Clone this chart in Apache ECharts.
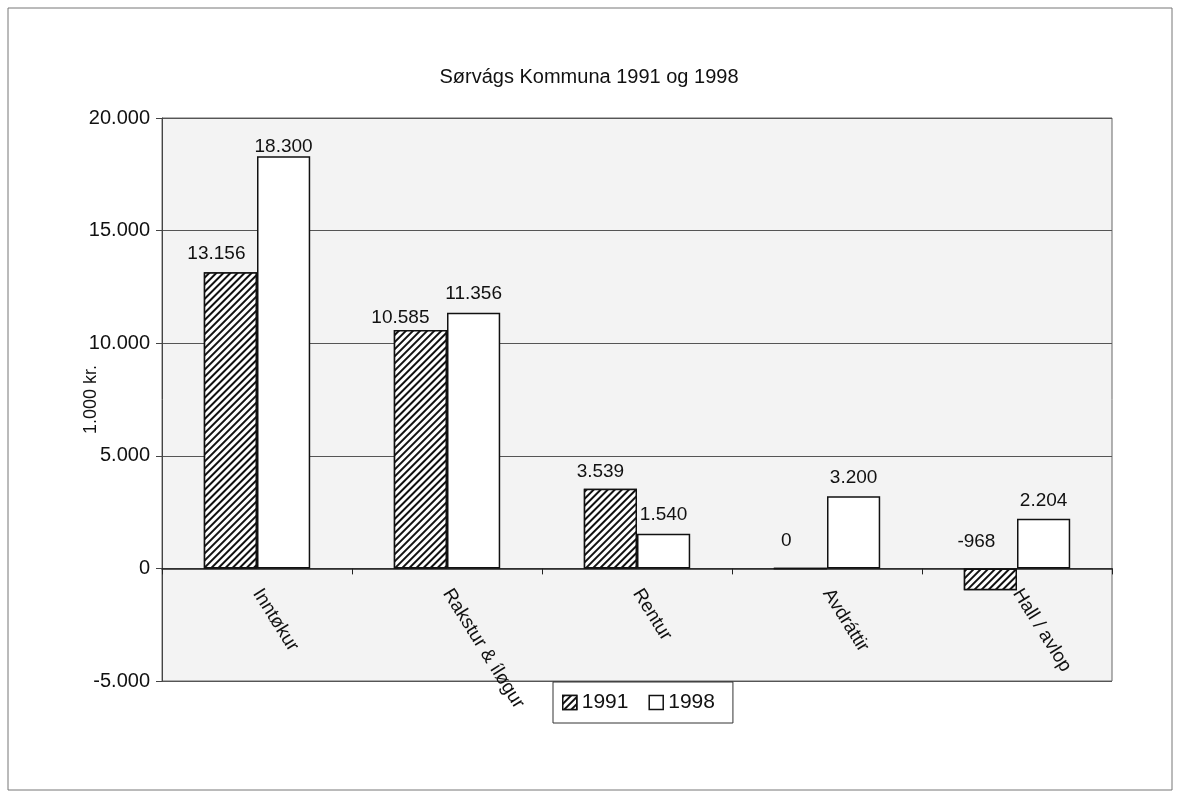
<!DOCTYPE html>
<html>
<head>
<meta charset="utf-8">
<script src="https://cdn.jsdelivr.net/npm/echarts@6/dist/echarts.min.js"></script>
<style>
html, body { margin: 0; padding: 0; background: #fff; }
#box { width: 1178px; height: 793px; }
</style>
</head>
<body>
<div id="box"></div>
<script>
var categories = ['Inntøkur', 'Rakstur & íløgur', 'Rentur', 'Avdráttir', 'Hall / avlop']
var values1991 = [13156, 10585, 3539, 0, -968]
var values1998 = [18300, 11356, 1540, 3200, 2204]
var yTicks = [-5000, 0, 5000, 10000, 15000, 20000]

// small nudges so the value labels sit where the original put them
var nudge1991 = [[-14, -4], [-20, 2], [-10, -2], [-14, -12], [-14, -12]]
var nudge1998 = [[0, 3], [0, -6], [0, -6], [0, -6], [0, -6]]

function fmt(v) {
    var s = String(Math.abs(v)).replace(/\B(?=(\d{3})+(?!\d))/g, '.')
    return (v < 0 ? '-' : '') + s
}

var font = 'Liberation Sans, Arial, sans-serif'
var hatch = {
    symbol: 'rect',
    color: '#111',
    backgroundColor: '#fff',
    dashArrayX: [1, 0],
    dashArrayY: [2, 3],
    rotation: -Math.PI / 4
}

// plot area in px, the x axis sits on the zero line
var gridTop = 118, gridBottom = 112, chartH = 793
var plotH = chartH - gridTop - gridBottom
var zeroShift = plotH * (0 - yTicks[0]) / (yTicks[yTicks.length - 1] - yTicks[0])

var data1991 = values1991.map(function (v, i) {
    return { value: v, label: { offset: nudge1991[i] } }
})
var data1998 = values1998.map(function (v, i) {
    return { value: v, label: { offset: nudge1998[i] } }
})

var chart = echarts.init(document.getElementById('box'))

chart.setOption({
    animation: false,
    backgroundColor: '#fff',
    textStyle: { fontFamily: font, color: '#111' },
    graphic: [{
        type: 'rect',
        shape: { x: 8, y: 8, width: 1164, height: 782 },
        style: { fill: 'none', stroke: '#777', lineWidth: 1 },
        silent: true,
        z: -10
    }],
    title: {
        text: 'Sørvágs Kommuna 1991 og 1998',
        left: 'center',
        top: 62,
        textStyle: { fontSize: 20, fontWeight: 'normal', color: '#111', fontFamily: font }
    },
    legend: {
        data: ['1991', '1998'],
        icon: 'rect',
        left: 553,
        top: 682,
        padding: [10, 18, 10, 9],
        itemWidth: 14,
        itemHeight: 14,
        itemGap: 20,
        itemStyle: { borderColor: '#111', borderWidth: 1.5 },
        borderColor: '#333',
        borderWidth: 1,
        textStyle: { fontSize: 21, color: '#111', fontFamily: font }
    },
    grid: {
        left: 162,
        right: 66,
        top: gridTop,
        bottom: gridBottom,
        show: true,
        backgroundColor: '#f3f3f3',
        borderColor: '#666',
        borderWidth: 1
    },
    xAxis: {
        type: 'category',
        data: categories,
        offset: -zeroShift,
        axisLine: { onZero: false, lineStyle: { color: '#222', width: 1.5 } },
        axisTick: { show: true, length: 6, lineStyle: { color: '#222' } },
        axisLabel: {
            rotate: -58,
            margin: 22,
            fontSize: 19,
            color: '#111',
            fontFamily: font
        }
    },
    yAxis: {
        type: 'value',
        min: yTicks[0],
        max: yTicks[yTicks.length - 1],
        interval: 5000,
        name: '1.000 kr.',
        nameLocation: 'middle',
        nameGap: 62,
        nameMoveOverlap: false,
        nameRotate: 90,
        nameTextStyle: { fontSize: 18, color: '#111', fontFamily: font },
        axisLine: { show: true, lineStyle: { color: '#444' } },
        axisTick: { show: true, length: 6, lineStyle: { color: '#444' } },
        axisLabel: {
            fontSize: 20,
            margin: 12,
            color: '#111',
            fontFamily: font,
            formatter: fmt
        },
        splitLine: { lineStyle: { color: '#555', width: 1 } }
    },
    series: [{
        name: '1991',
        type: 'bar',
        data: data1991,
        barGap: '0%',
        barCategoryGap: '44%',
        itemStyle: { color: '#fff', borderColor: '#111', borderWidth: 1.5, decal: hatch },
        label: {
            show: true,
            position: 'top',
            fontSize: 19,
            color: '#111',
            fontFamily: font,
            formatter: function (p) { return fmt(p.value) }
        }
    }, {
        name: '1998',
        type: 'bar',
        data: data1998,
        barGap: '0%',
        barCategoryGap: '44%',
        itemStyle: { color: '#fff', borderColor: '#111', borderWidth: 1.5 },
        label: {
            show: true,
            position: 'top',
            distance: 3,
            fontSize: 19,
            color: '#111',
            fontFamily: font,
            formatter: function (p) { return fmt(p.value) }
        }
    }]
})
</script>
</body>
</html>
